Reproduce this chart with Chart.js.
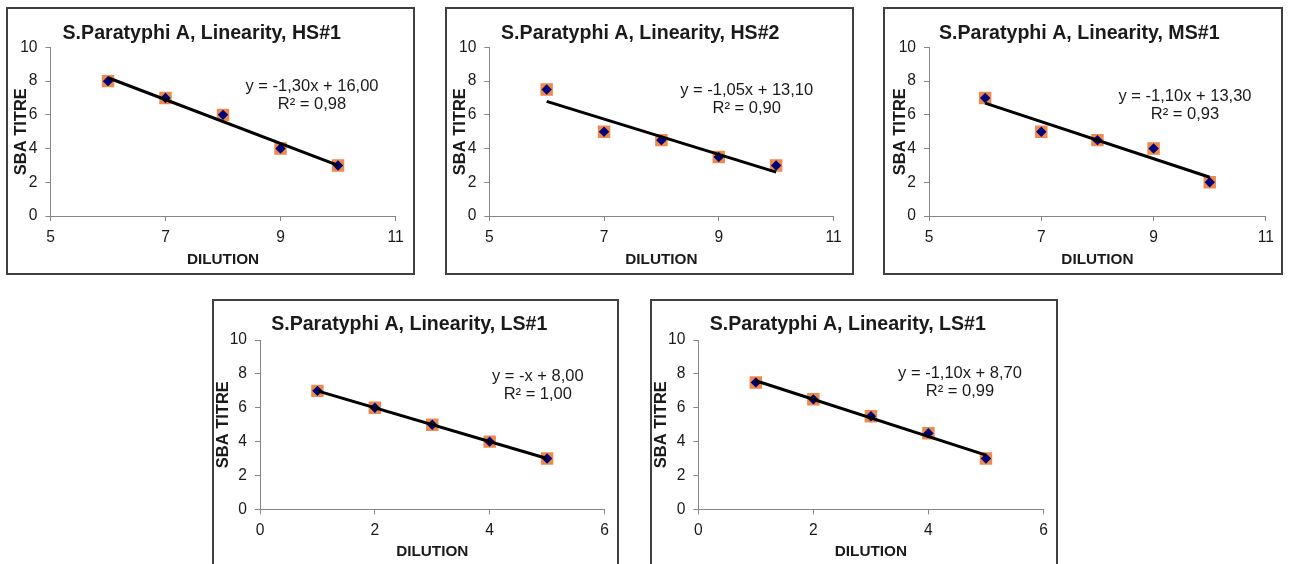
<!DOCTYPE html>
<html lang="en">
<head>
    <meta charset="UTF-8">
    <title>S.Paratyphi A - Linearity</title>
    <script src="https://cdn.jsdelivr.net/npm/chart.js"></script>
    <style>
    body {
        margin: 0;
        background: #fff;
        width: 1293px;
        height: 564px;
        overflow: hidden;
        position: relative;
    }
    .panel {
        position: absolute;
        box-sizing: border-box;
        border: 2px solid #404040;
        background: #fff;
    }
    .panel canvas {
        display: block;
    }
</style>
</head>
<body>
    <div class="panel" id="p0" style="left:6px; top:7px; width:409px; height:268px;"><canvas id="c0"></canvas></div>
    <div class="panel" id="p1" style="left:445px; top:7px; width:409px; height:268px;"><canvas id="c1"></canvas></div>
    <div class="panel" id="p2" style="left:883px; top:7px; width:400px; height:268px;"><canvas id="c2"></canvas></div>
    <div class="panel" id="p3" style="left:212px; top:299px; width:407px; height:268px;"><canvas id="c3"></canvas></div>
    <div class="panel" id="p4" style="left:650px; top:299px; width:408px; height:268px;"><canvas id="c4"></canvas></div>
    <script>
        // chart data
        const titles = [
            'S.Paratyphi A, Linearity, HS#1',
            'S.Paratyphi A, Linearity, HS#2',
            'S.Paratyphi A, Linearity, MS#1',
            'S.Paratyphi A, Linearity, LS#1',
            'S.Paratyphi A, Linearity, LS#1'
        ];

        const dilutionHigh = [6, 7, 8, 9, 10];
        const dilutionLow = [1, 2, 3, 4, 5];

        const titreHS1 = [8, 7, 6, 4, 3];
        const titreHS2 = [7.5, 5, 4.5, 3.5, 3];
        const titreMS1 = [7, 5, 4.5, 4, 2];
        const titreLS1 = [7, 6, 5, 4, 3];
        const titreLS1b = [7.5, 6.5, 5.5, 4.5, 3];

        // trendline values at first and last dilution
        const trendHS1 = [8.2, 3.0];
        const trendHS2 = [6.8, 2.6];
        const trendMS1 = [6.7, 2.3];
        const trendLS1 = [7.0, 3.0];
        const trendLS1b = [7.6, 3.2];

        const equations = [
            ['y = -1,30x + 16,00', 'R² = 0,98'],
            ['y = -1,05x + 13,10', 'R² = 0,90'],
            ['y = -1,10x + 13,30', 'R² = 0,93'],
            ['y = -x + 8,00', 'R² = 1,00'],
            ['y = -1,10x + 8,70', 'R² = 0,99']
        ];

        const xTicksHigh = [5, 7, 9, 11];
        const xTicksLow = [0, 2, 4, 6];
        const yTicks = [0, 2, 4, 6, 8, 10];

        const xLabel = 'DILUTION';
        const yLabel = 'SBA TITRE';

        const series = [
            { x: dilutionHigh, y: titreHS1, trend: trendHS1, ticks: xTicksHigh },
            { x: dilutionHigh, y: titreHS2, trend: trendHS2, ticks: xTicksHigh },
            { x: dilutionHigh, y: titreMS1, trend: trendMS1, ticks: xTicksHigh },
            { x: dilutionLow, y: titreLS1, trend: trendLS1, ticks: xTicksLow },
            { x: dilutionLow, y: titreLS1b, trend: trendLS1b, ticks: xTicksLow }
        ];

        // layout of each panel (pixels)
        const layouts = [
            { w: 405, h: 264, left: 42.5, bottom: 57, right: 17.5, titleTop: 13, titleBottom: 1.9, yTitlePad: 5, eq: [261.5, 38.7] },
            { w: 405, h: 264, left: 42.3, bottom: 57, right: 18.5, titleTop: 13, titleBottom: 1.9, yTitlePad: 5, eq: [257.4, 42.7] },
            { w: 396, h: 264, left: 44, bottom: 57, right: 7.5, titleTop: 13, titleBottom: 1.9, yTitlePad: 7, eq: [256, 49.4] },
            { w: 403, h: 264, left: 46, bottom: 55.7, right: 12.5, titleTop: 11.6, titleBottom: 4, yTitlePad: 1.5, eq: [277.8, 36] },
            { w: 404, h: 264, left: 46.3, bottom: 55.7, right: 12.5, titleTop: 11.6, titleBottom: 4, yTitlePad: 1.5, eq: [261.7, 33.3] }
        ];

        const axisGray = '#868686';
        const textColor = '#1a1a1a';
        const fontFamily = '"Liberation Sans", Arial, sans-serif';

        // draws the trendline equation text
        const equationPlugin = {
            id: 'equation',
            afterDatasetsDraw(chart, args, opts) {
                const ctx = chart.ctx;
                const area = chart.chartArea;
                ctx.save();
                ctx.font = '16.5px ' + fontFamily;
                ctx.fillStyle = textColor;
                ctx.textAlign = 'center';
                ctx.textBaseline = 'middle';
                opts.lines.forEach((line, i) => {
                    ctx.fillText(line, area.left + opts.pos[0], area.top + opts.pos[1] + i * 18);
                });
                ctx.restore();
            }
        };

        series.forEach((s, i) => {
            const lay = layouts[i];
            const canvas = document.getElementById('c' + i);
            canvas.width = lay.w;
            canvas.height = lay.h;
            canvas.style.width = lay.w + 'px';
            canvas.style.height = lay.h + 'px';

            const points = s.x.map((x, k) => ({ x: x, y: s.y[k] }));
            const trendPoints = [
                { x: s.x[0], y: s.trend[0] },
                { x: s.x[s.x.length - 1], y: s.trend[1] }
            ];

            new Chart(canvas.getContext('2d'), {
                type: 'scatter',
                data: {
                    datasets: [
                        {
                            type: 'line',
                            data: trendPoints,
                            borderColor: '#000',
                            borderWidth: 3,
                            pointRadius: 0,
                            fill: false,
                            order: 1
                        },
                        {
                            data: points,
                            pointStyle: 'rectRot',
                            pointRadius: 5.2,
                            backgroundColor: '#00007a',
                            borderColor: '#00007a',
                            borderWidth: 0,
                            order: 2
                        },
                        {
                            data: points,
                            pointStyle: 'rect',
                            pointRadius: 8.8,
                            backgroundColor: '#ee8a4e',
                            borderColor: '#ee8a4e',
                            borderWidth: 0,
                            order: 3
                        }
                    ]
                },
                options: {
                    responsive: false,
                    animation: false,
                    events: [],
                    layout: {
                        padding: { left: 0, right: lay.right, top: 0, bottom: 0 }
                    },
                    plugins: {
                        legend: { display: false },
                        tooltip: { enabled: false },
                        title: {
                            display: true,
                            text: titles[i],
                            color: textColor,
                            font: { family: fontFamily, size: 19.6, weight: 'bold', lineHeight: 1.2 },
                            padding: { top: lay.titleTop, bottom: lay.titleBottom }
                        },
                        equation: { lines: equations[i], pos: lay.eq }
                    },
                    scales: {
                        x: {
                            type: 'linear',
                            min: s.ticks[0],
                            max: s.ticks[s.ticks.length - 1],
                            afterBuildTicks: (scale) => {
                                scale.ticks = s.ticks.map(v => ({ value: v }));
                            },
                            afterFit: (scale) => { scale.height = lay.bottom; },
                            grid: {
                                drawOnChartArea: false,
                                drawTicks: true,
                                tickLength: 5,
                                tickColor: axisGray
                            },
                            border: { color: axisGray, width: 1 },
                            ticks: {
                                color: textColor,
                                padding: 7,
                                maxRotation: 0,
                                font: { family: fontFamily, size: 15.6 }
                            },
                            title: {
                                display: true,
                                text: xLabel,
                                color: textColor,
                                font: { family: fontFamily, size: 15.3, weight: 'bold', lineHeight: 1.2 },
                                padding: { top: 0, bottom: 3.6 }
                            }
                        },
                        y: {
                            type: 'linear',
                            min: yTicks[0],
                            max: yTicks[yTicks.length - 1],
                            afterBuildTicks: (scale) => {
                                scale.ticks = yTicks.map(v => ({ value: v }));
                            },
                            afterFit: (scale) => { scale.width = lay.left; },
                            grid: {
                                drawOnChartArea: false,
                                drawTicks: true,
                                tickLength: 5,
                                tickColor: axisGray
                            },
                            border: { color: axisGray, width: 1 },
                            ticks: {
                                color: textColor,
                                padding: 8,
                                font: { family: fontFamily, size: 15.6 }
                            },
                            title: {
                                display: true,
                                text: yLabel,
                                color: textColor,
                                font: { family: fontFamily, size: 16.5, weight: 'bold', lineHeight: 1 },
                                padding: { top: lay.yTitlePad, bottom: 0 }
                            }
                        }
                    }
                },
                plugins: [equationPlugin]
            });
        });
    </script>
</body>
</html>
